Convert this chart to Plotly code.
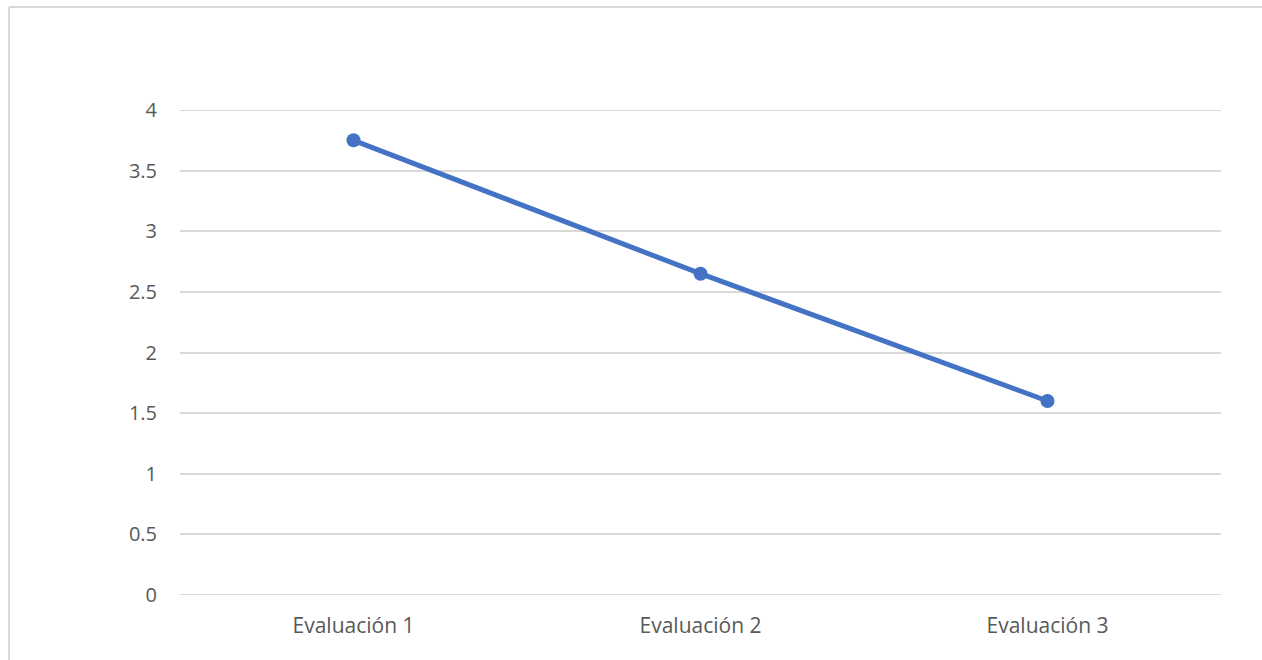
import plotly.graph_objects as go

categories = ["Evaluación 1", "Evaluación 2", "Evaluación 3"]
values = [3.75, 2.65, 1.6]
y_ticks = [0, 0.5, 1, 1.5, 2, 2.5, 3, 3.5, 4]
y_tick_labels = ["0", "0.5", "1", "1.5", "2", "2.5", "3", "3.5", "4"]

W, H = 1262, 660
L, R, T, B = 180, 41, 110, 65
pw, ph = W - L - R, H - T - B

def px_x(x):
    return (x - L) / pw

def px_y(y):
    return (H - B - y) / ph

grid_color = "#d9d9d9"

fig = go.Figure(
    go.Scatter(
        x=categories,
        y=values,
        mode="lines+markers",
        line=dict(color="#4472C4", width=5),
        marker=dict(color="#4472C4", size=14),
        showlegend=False,
    )
)

# gridlines at the ends of the value range, drawn under the series
for yv in (y_ticks[0], y_ticks[-1]):
    fig.add_shape(type="line", xref="paper", yref="y", layer="below",
                  x0=0, x1=1, y0=yv, y1=yv,
                  line=dict(color=grid_color, width=2))

# outer frame of the chart area
border = dict(color=grid_color, width=2)
fig.add_shape(type="line", xref="paper", yref="paper",
              x0=px_x(9), x1=px_x(9), y0=px_y(7), y1=px_y(H + 5), line=border)
fig.add_shape(type="line", xref="paper", yref="paper",
              x0=px_x(9), x1=px_x(W + 5), y0=px_y(7), y1=px_y(7), line=border)

font = dict(family="Open Sans, Calibri, sans-serif", size=20, color="#595959")
xfont = dict(font, size=21)

fig.update_layout(
    width=W, height=H,
    margin=dict(l=L, r=R, t=T, b=B),
    paper_bgcolor="white", plot_bgcolor="white",
    font=font,
    xaxis=dict(
        range=[-0.5, 2.5],
        showgrid=False, zeroline=False, showline=False,
        ticks="", ticklabelstandoff=16,
        tickfont=xfont,
    ),
    yaxis=dict(
        range=[0, 4],
        tickvals=y_ticks, ticktext=y_tick_labels,
        showgrid=True, gridcolor=grid_color, gridwidth=2,
        zeroline=False, showline=False,
        ticks="", ticklabelstandoff=22,
        tickfont=font,
    ),
)

fig.write_html("out.html")
